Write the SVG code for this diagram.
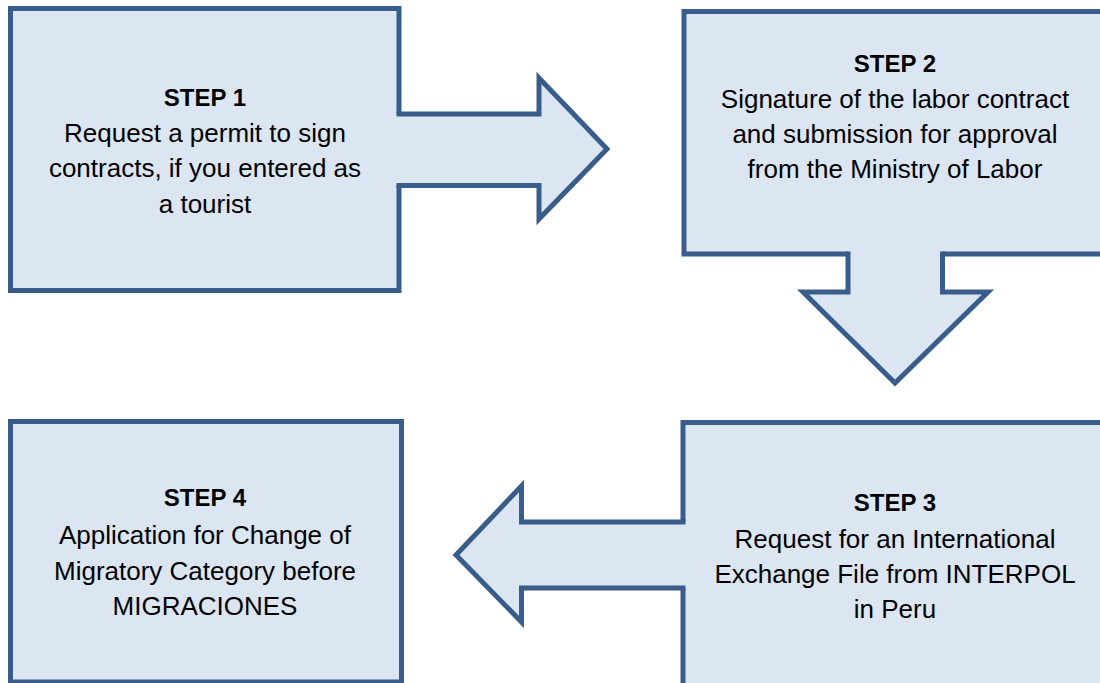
<svg xmlns="http://www.w3.org/2000/svg" width="1100" height="683" viewBox="0 0 1100 683">
<style>
.box{fill:#dce6f2;stroke:#385d8a;stroke-width:5}
.afill{fill:#dce6f2;stroke:none}
.aline{fill:none;stroke:#385d8a;stroke-width:5;stroke-linecap:square;stroke-linejoin:miter}
text{font-family:"Liberation Sans",Arial,sans-serif;font-size:26px;fill:#000;text-anchor:middle}
.h{font-weight:bold;font-size:24px}
</style>
<rect width="1100" height="683" fill="#fff"/>
<g id="step1">
<rect class="box" x="10.5" y="8.5" width="388.5" height="282"/>
<text x="205" y="106" class="h">STEP 1</text>
<text x="205" y="141.5">Request a permit to sign</text>
<text x="205" y="177">contracts, if you entered as</text>
<text x="205" y="212.5">a tourist</text>
</g>
<g id="step2">
<rect class="box" x="684" y="11.5" width="420" height="242.5"/>
<text x="895" y="72" class="h">STEP 2</text>
<text x="895" y="108">Signature of the labor contract</text>
<text x="895" y="143">and submission for approval</text>
<text x="895" y="178">from the Ministry of Labor</text>
</g>
<g id="step3">
<rect class="box" x="683" y="422.5" width="421" height="270"/>
<text x="895" y="511" class="h">STEP 3</text>
<text x="895" y="547.5">Request for an International</text>
<text x="895" y="583">Exchange File from INTERPOL</text>
<text x="895" y="618">in Peru</text>
</g>
<g id="step4">
<rect class="box" x="10.5" y="421.5" width="391" height="260.5"/>
<text x="205" y="506" class="h">STEP 4</text>
<text x="205" y="544">Application for Change of</text>
<text x="205" y="580">Migratory Category before</text>
<text x="205" y="615">MIGRACIONES</text>
</g>
<g id="connectors">
<polygon class="afill" points="395,114 539,114 539,78 607,149 539,219 539,185.5 395,185.5"/>
<polyline class="aline" points="399,114 539,114 539,78 607,149 539,219 539,185.5 399,185.5"/>
<polygon class="afill" points="848,250 942.5,250 942.5,292 988,292 895,383 803,292 848,292"/>
<polyline class="aline" points="848,254 848,292 803,292 895,383 988,292 942.5,292 942.5,254"/>
<polygon class="afill" points="687,522 521.5,522 521.5,486 456,555 521.5,622 521.5,588 687,588"/>
<polyline class="aline" points="683,522 521.5,522 521.5,486 456,555 521.5,622 521.5,588 683,588"/>
</g>
</svg>
